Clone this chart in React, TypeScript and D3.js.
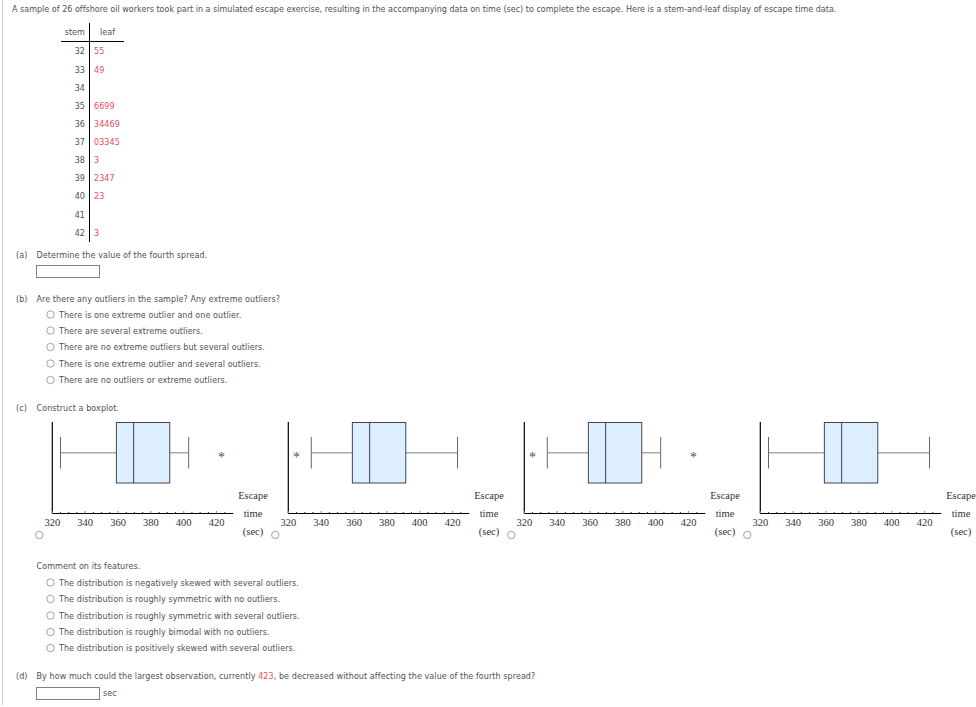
import { useEffect, useRef } from 'react'
import * as d3 from 'd3'

const stems = ['32', '33', '34', '35', '36', '37', '38', '39', '40', '41', '42']
const leaves = ['55', '49', '', '6699', '34469', '03345', '3', '2347', '23', '', '3']
const stemRowY = [54, 73, 91, 109, 127, 145, 163, 181, 199, 218, 236]

const optionsB = [
  'There is one extreme outlier and one outlier.',
  'There are several extreme outliers.',
  'There are no extreme outliers but several outliers.',
  'There is one extreme outlier and several outliers.',
  'There are no outliers or extreme outliers.',
]
const optionsBY = [314.5, 330.5, 347, 363.5, 380]

const optionsC = [
  'The distribution is negatively skewed with several outliers.',
  'The distribution is roughly symmetric with no outliers.',
  'The distribution is roughly symmetric with several outliers.',
  'The distribution is roughly bimodal with no outliers.',
  'The distribution is positively skewed with several outliers.',
]
const optionsCY = [582.5, 599, 615.5, 632, 648]

const axisTicks = [320, 340, 360, 380, 400, 420]
const minorTicks = [325, 330, 335, 345, 350, 355, 365, 370, 375, 385, 390, 395, 405, 410, 415, 425]

const boxQ1 = 359
const boxMedian = 369.5
const boxQ3 = 391.5
const whiskerLow = [325, 334, 334, 325]
const whiskerHigh = [403, 423, 403, 423]
const outliers = [[423], [325], [325, 423], []]
const panelLeft = [52.3, 288.3, 524.3, 760.3]

const sans = '"DejaVu Sans", Verdana, sans-serif'
const serif = '"Liberation Serif", "Times New Roman", serif'
const textColor = '#505050'
const red = '#ee4a5e'

export default function App() {
  const ref = useRef<SVGSVGElement>(null)

  useEffect(() => {
    if (!ref.current) return
    const svg = d3.select(ref.current)
    svg.selectAll('*').remove()

    const label = (x: number, y: number, s: string, anchor = 'start', color = textColor) =>
      svg.append('text')
        .attr('x', x)
        .attr('y', y)
        .attr('text-anchor', anchor)
        .attr('fill', color)
        .style('font-family', sans)
        .style('font-size', '8px')
        .style('letter-spacing', '0.08px')
        .text(s)

    const radio = (x: number, y: number) =>
      svg.append('circle')
        .attr('cx', x)
        .attr('cy', y)
        .attr('r', 3.7)
        .attr('fill', '#fff')
        .attr('stroke', '#999')
        .attr('stroke-width', 0.9)

    const input = (y: number) =>
      svg.append('rect')
        .attr('x', 36.5)
        .attr('y', y)
        .attr('width', 63)
        .attr('height', 12)
        .attr('fill', '#fff')
        .attr('stroke', '#808080')

    // page rule on the left
    svg.append('line')
      .attr('x1', 2.5).attr('x2', 2.5)
      .attr('y1', 0).attr('y2', 705)
      .attr('stroke', '#ccc')
      .attr('stroke-width', 1)

    label(12, 11.5, 'A sample of 26 offshore oil workers took part in a simulated escape exercise, resulting in the accompanying data on time (sec) to complete the escape. Here is a stem-and-leaf display of escape time data.')
      .style('letter-spacing', '0.02px')

    // stem and leaf table
    label(85, 35, 'stem', 'end')
    label(100, 35, 'leaf')
    svg.append('line').attr('x1', 89.5).attr('x2', 89.5).attr('y1', 23).attr('y2', 242).attr('stroke', '#000')
    svg.append('line').attr('x1', 61).attr('x2', 124).attr('y1', 41.5).attr('y2', 41.5).attr('stroke', '#000')
    stems.forEach((s, i) => {
      label(85, stemRowY[i], s, 'end')
      label(94, stemRowY[i], leaves[i], 'start', red)
    })

    label(16, 258, '(a)')
    label(36.5, 258, 'Determine the value of the fourth spread.')
    input(265.5)

    label(16, 302, '(b)')
    label(36.5, 302, 'Are there any outliers in the sample? Any extreme outliers?')
    optionsB.forEach((s, i) => {
      radio(50.5, optionsBY[i])
      label(59, optionsBY[i] + 3, s)
    })

    label(16, 411, '(c)')
    label(36.5, 411, 'Construct a boxplot.')

    // boxplots
    const axisY = 513.5
    panelLeft.forEach((left, p) => {
      const x = d3.scaleLinear().domain([320, 420]).range([left, left + 164.3])
      const g = svg.append('g')

      g.append('line').attr('x1', left).attr('x2', left).attr('y1', 422).attr('y2', axisY).attr('stroke', '#000').attr('stroke-width', 1.2)
      g.append('line').attr('x1', left).attr('x2', left + 181).attr('y1', axisY).attr('y2', axisY).attr('stroke', '#000').attr('stroke-width', 1.2)

      g.selectAll('line.minor').data(minorTicks).enter().append('line')
        .attr('class', 'minor')
        .attr('x1', d => x(d)).attr('x2', d => x(d))
        .attr('y1', axisY - 1.5).attr('y2', axisY)
        .attr('stroke', '#333')
      g.selectAll('line.major').data(axisTicks).enter().append('line')
        .attr('class', 'major')
        .attr('x1', d => x(d)).attr('x2', d => x(d))
        .attr('y1', axisY - 2.5).attr('y2', axisY)
        .attr('stroke', '#888')

      g.selectAll('text.tick').data(axisTicks).enter().append('text')
        .attr('class', 'tick')
        .attr('x', d => x(d))
        .attr('y', 526)
        .attr('text-anchor', 'middle')
        .attr('fill', '#333')
        .style('font-family', serif)
        .style('font-size', '10.5px')
        .text(d => d)

      const midY = 452.7
      g.append('line')
        .attr('x1', x(whiskerLow[p])).attr('x2', x(whiskerHigh[p]))
        .attr('y1', midY).attr('y2', midY)
        .attr('stroke', '#aaa').attr('stroke-width', 1.6)
      ;[whiskerLow[p], whiskerHigh[p]].forEach(v => {
        g.append('line')
          .attr('x1', x(v)).attr('x2', x(v))
          .attr('y1', 437).attr('y2', 468.5)
          .attr('stroke', '#666').attr('stroke-width', 1)
      })

      g.append('rect')
        .attr('x', x(boxQ1)).attr('y', 422.5)
        .attr('width', x(boxQ3) - x(boxQ1)).attr('height', 60.5)
        .attr('fill', '#ddeeff').attr('stroke', '#445').attr('stroke-width', 1)
      g.append('line')
        .attr('x1', x(boxMedian)).attr('x2', x(boxMedian))
        .attr('y1', 422.5).attr('y2', 483)
        .attr('stroke', '#445').attr('stroke-width', 1)

      g.selectAll('text.out').data(outliers[p]).enter().append('text')
        .attr('class', 'out')
        .attr('x', d => x(d))
        .attr('y', 461.5)
        .attr('text-anchor', 'middle')
        .attr('fill', '#555')
        .style('font-family', serif)
        .style('font-size', '14px')
        .text('*')

      const axisLabel = (lx: number, ly: number, s: string) =>
        g.append('text')
          .attr('x', lx).attr('y', ly)
          .attr('text-anchor', 'middle')
          .attr('fill', '#333')
          .style('font-family', serif)
          .style('font-size', '10.5px')
          .text(s)
      axisLabel(left + 200.7, 499, 'Escape')
      axisLabel(left + 200.7, 517, 'time')
      axisLabel(left + 200.7, 535, '(sec)')

      radio(left - 13, 535)
    })

    label(36.5, 569, 'Comment on its features.')
    optionsC.forEach((s, i) => {
      radio(50.5, optionsCY[i])
      label(59, optionsCY[i] + 3, s)
    })

    label(16, 679, '(d)')
    const d = label(36.5, 679, 'By how much could the largest observation, currently ')
    d.append('tspan').attr('fill', red).text('423')
    d.append('tspan').text(', be decreased without affecting the value of the fourth spread?')
    input(687.5)
    label(103, 696, 'sec')
  }, [])

  return (
    <svg
      ref={ref}
      width="976"
      height="707"
      style={{ position: 'absolute', left: 0, top: 0, background: '#fff' }}
    ></svg>
  )
}
